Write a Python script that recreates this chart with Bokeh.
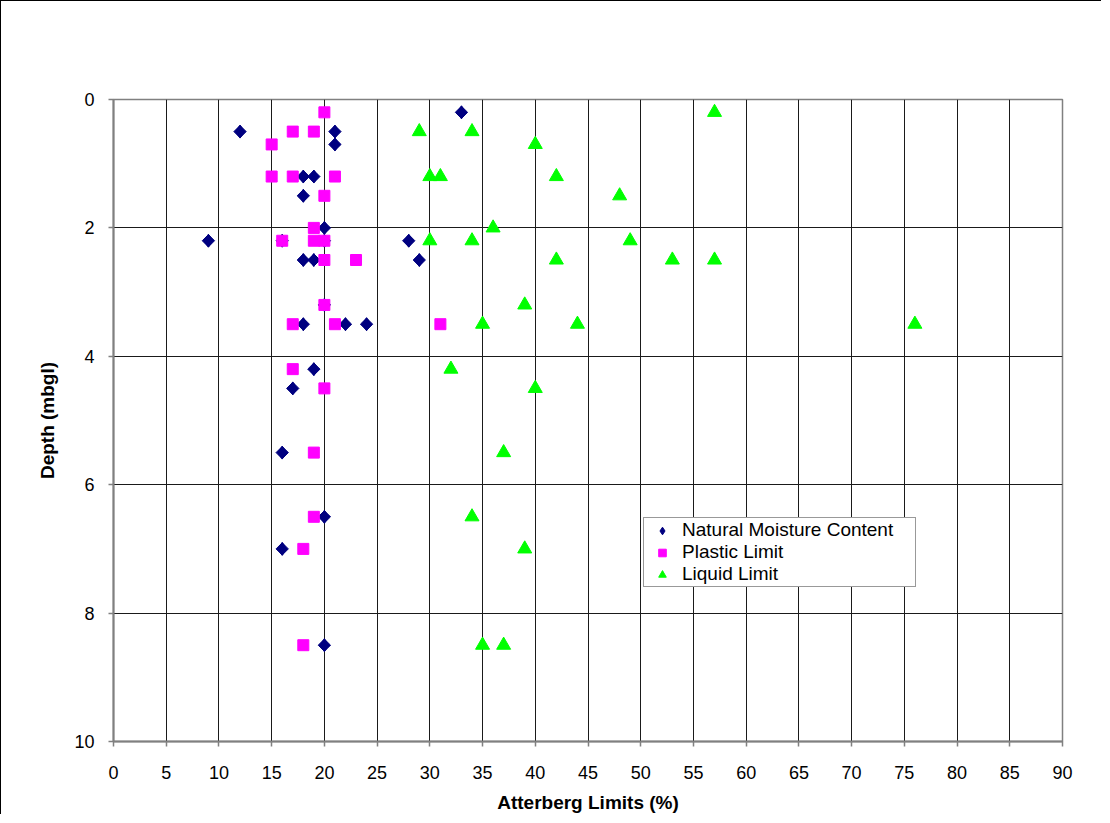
import math
from bokeh.plotting import figure
from bokeh.models import Range1d, FixedTicker, Legend, LegendItem
from bokeh.embed import file_html
from bokeh.resources import INLINE

# Natural Moisture Content (%)
nmc_pct = [33, 12, 21, 21, 18, 19, 18, 20, 9, 16, 20, 28, 18, 19, 29, 20, 18, 22, 24, 19, 17, 16, 20, 16, 20]
nmc_depth = [0.2, 0.5, 0.5, 0.7, 1.2, 1.2, 1.5, 2.0, 2.2, 2.2, 2.2, 2.2, 2.5, 2.5, 2.5, 3.2, 3.5, 3.5, 3.5, 4.2, 4.5, 5.5, 6.5, 7.0, 8.5]

# Plastic Limit (%)
pl_pct = [20, 17, 19, 15, 15, 17, 21, 20, 19, 16, 19, 20, 20, 23, 20, 17, 21, 31, 17, 20, 19, 19, 18, 18]
pl_depth = [0.2, 0.5, 0.5, 0.7, 1.2, 1.2, 1.2, 1.5, 2.0, 2.2, 2.2, 2.2, 2.5, 2.5, 3.2, 3.5, 3.5, 3.5, 4.2, 4.5, 5.5, 6.5, 7.0, 8.5]

# Liquid Limit (%)
ll_pct = [57, 29, 34, 40, 30, 31, 42, 48, 36, 30, 34, 49, 42, 53, 57, 39, 35, 44, 76, 32, 40, 37, 34, 39, 35, 37]
ll_depth = [0.2, 0.5, 0.5, 0.7, 1.2, 1.2, 1.2, 1.5, 2.0, 2.2, 2.2, 2.2, 2.5, 2.5, 2.5, 3.2, 3.5, 3.5, 3.5, 4.2, 4.5, 5.5, 6.5, 7.0, 8.5, 8.5]

series_labels = ["Natural Moisture Content", "Plastic Limit", "Liquid Limit"]
x_ticks = list(range(0, 91, 5))
y_ticks = [0, 2, 4, 6, 8, 10]

FONT = "Liberation Sans"

p = figure(width=1101, height=814, output_backend="svg", toolbar_location=None,
           x_range=Range1d(0, 90), y_range=Range1d(10, 0),
           min_border_left=112, min_border_right=40, min_border_top=98, min_border_bottom=73,
           background_fill_color="white", border_fill_color="white")
p.styles = {"border-left": "1px solid black", "border-top": "1px solid black"}

p.outline_line_color = "#808080"
p.outline_line_width = 1.5

for g, t in ((p.xgrid, x_ticks), (p.ygrid, y_ticks)):
    g.ticker = FixedTicker(ticks=t)
    g.grid_line_color = "#1a1a1a"
    g.grid_line_width = 1

p.xaxis.ticker = FixedTicker(ticks=x_ticks)
p.yaxis.ticker = FixedTicker(ticks=y_ticks)
for ax in (p.xaxis, p.yaxis):
    ax.axis_line_color = "#808080"
    ax.axis_line_width = 2
    ax.major_tick_line_color = "#808080"
    ax.major_tick_line_width = 1.5
    ax.major_tick_in = 0
    ax.major_tick_out = 5
    ax.minor_tick_line_color = None
    ax.major_label_text_font = FONT
    ax.major_label_text_font_size = "18px"
    ax.major_label_text_color = "black"
    ax.axis_label_text_font = FONT
    ax.axis_label_text_font_size = "19px"
    ax.axis_label_text_font_style = "bold"
    ax.axis_label_text_color = "black"

p.xaxis.axis_label = "Atterberg Limits (%)"
p.yaxis.axis_label = "Depth (mbgl)"
p.xaxis.major_label_standoff = 19
p.yaxis.major_label_standoff = 14
p.xaxis.axis_label_standoff = 10
p.yaxis.axis_label_standoff = 13

# diamond key renderer (hidden beneath the rotated squares, used for the legend swatch)
r1_key = p.scatter(nmc_pct, nmc_depth, marker="diamond", size=13,
                   fill_color="#000080", line_color="#000080")
r1 = p.scatter(nmc_pct, nmc_depth, marker="square", size=8.7, angle=math.pi / 4,
               fill_color="#000080", line_color="#000080")
r2 = p.scatter(pl_pct, pl_depth, marker="square", size=11,
               fill_color="#FF00FF", line_color="#FF00FF")
r3 = p.scatter(ll_pct, ll_depth, marker="triangle", size=14,
               fill_color="#00FF00", line_color="#00FF00")

legend = Legend(items=[LegendItem(label=series_labels[0], renderers=[r1_key]),
                       LegendItem(label=series_labels[1], renderers=[r2]),
                       LegendItem(label=series_labels[2], renderers=[r3])],
                location=(530, 154))
legend.label_text_font = FONT
legend.label_text_font_size = "19px"
legend.label_text_color = "black"
legend.spacing = 0
legend.padding = 1
legend.margin = 0
legend.glyph_width = 34
legend.glyph_height = 19
legend.label_height = 19
legend.label_standoff = 3
legend.label_width = 232
legend.border_line_color = "#333333"
legend.border_line_width = 1
legend.background_fill_color = "white"
legend.background_fill_alpha = 1
p.add_layout(legend)

open("out.html", "w").write(file_html(p, INLINE))
